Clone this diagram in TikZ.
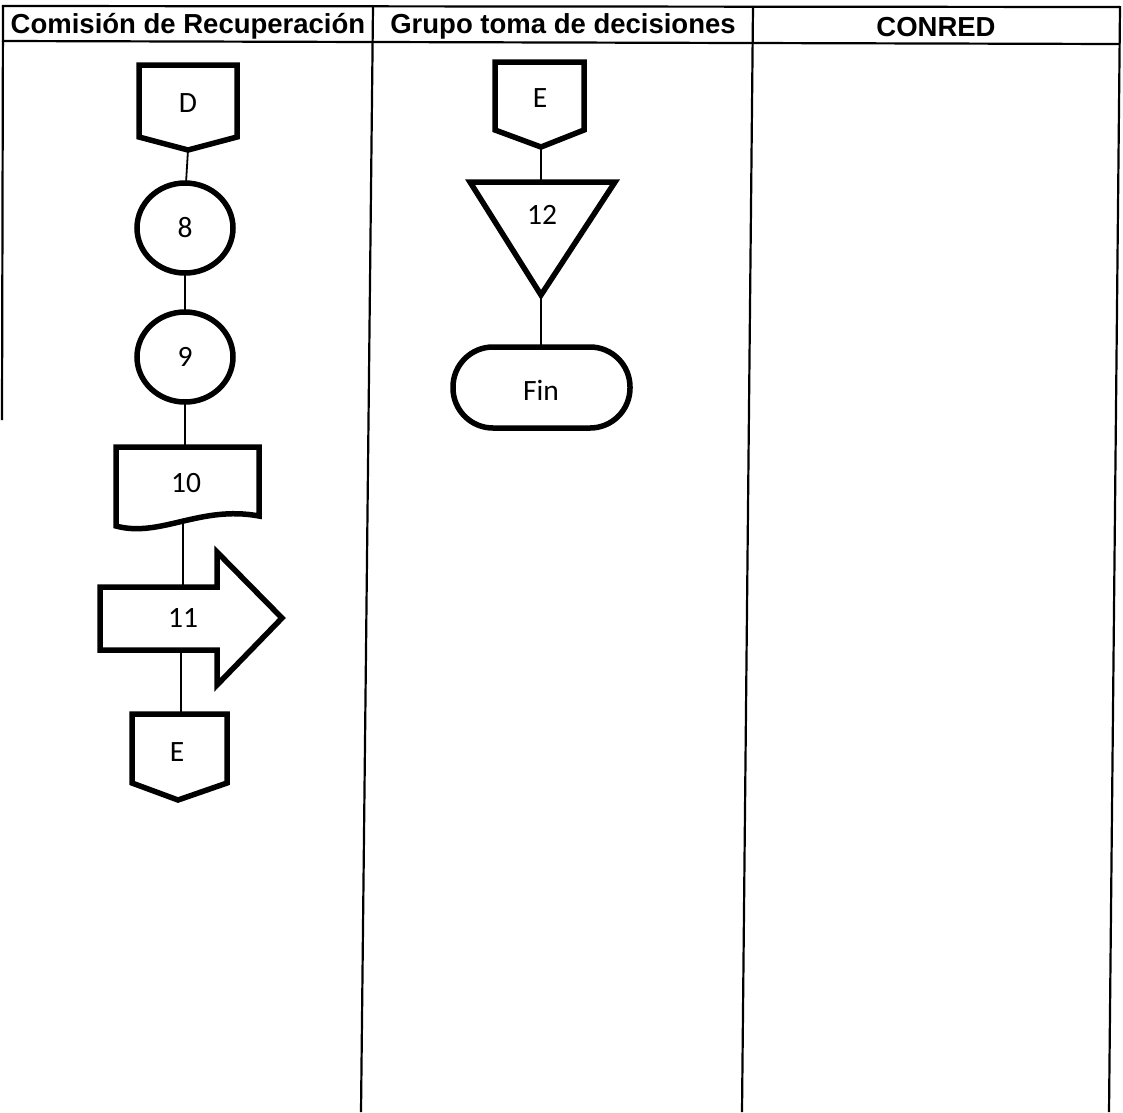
\documentclass[tikz,border=0pt]{standalone}
\usepackage{fontspec}
\setmainfont{Carlito}
\newfontfamily\hdrfont{Liberation Sans}
\begin{document}
\begin{tikzpicture}[x=1pt,y=-1pt,
  symb/.style={line width=5.5pt, line join=miter},
  conn/.style={line width=1.8pt},
  frame/.style={line width=2.2pt},
  lbl/.style={font=\fontsize{29.5}{29.5}\selectfont, inner sep=0pt},
  head/.style={font=\hdrfont\bfseries\fontsize{27.5}{27.5}\selectfont, inner sep=0pt}]
\useasboundingbox (0,0) rectangle (1123,1112);
% frame
\draw[frame] (2,6) -- (1120,7);
\draw[frame] (2,41) -- (1120,44);
\draw[frame] (3,5) -- (2,420);
\draw[frame] (373,6) -- (361,1112);
\draw[frame] (753,6) -- (742,1112);
\draw[frame] (1120,6) -- (1109,1112);
% headers
\node[head] (h1) at (188,26) {Comisión de Recuperación};
\node[head] (h2) at (563,26) {Grupo toma de decisiones};
\node[head] (h3) at (936,27) {CONRED};
% column 1
\draw[symb] (139,65) -- (237,65) -- (237,137) -- (188,150) -- (139,137) -- cycle;
\node[lbl] (D) at (188,103) {D};
\coordinate (Dbot) at (188,150);
\draw[symb] (185,228) ellipse [x radius=48pt, y radius=45pt];
\node[lbl] (n8) at (185,228) {8};
\coordinate (n8top) at (186,183);
\coordinate (n8bot) at (185,273);
\draw[symb] (185,357) ellipse [x radius=48pt, y radius=45pt];
\node[lbl] (n9) at (185,357) {9};
\coordinate (n9top) at (185,312);
\coordinate (n9bot) at (185,402);
\draw[symb] (116,526) -- (116,447) -- (259,447) -- (259,516) .. controls (200,505) and (160,538) .. (116,526) -- cycle;
\node[lbl] (n10) at (186,483) {10};
\coordinate (n10top) at (185,447);
\coordinate (n10bot) at (183,522);
\draw[symb] (100,587) -- (217,587) -- (217,552) -- (282,618) -- (217,685) -- (217,650) -- (100,650) -- cycle;
\node[lbl] (n11) at (183,618) {11};
\coordinate (n11top) at (183,587);
\coordinate (n11bot) at (181,650);
\draw[symb] (132,714) -- (227,714) -- (227,783) -- (178,800) -- (132,783) -- cycle;
\node[lbl] (E1) at (177,752) {E};
\coordinate (E1top) at (181,714);
\draw[conn] (Dbot) -- (n8top);
\draw[conn] (n8bot) -- (n9top);
\draw[conn] (n9bot) -- (n10top);
\draw[conn] (n10bot) -- (n11top);
\draw[conn] (n11bot) -- (E1top);
% column 2
\draw[symb] (495,62) -- (584,62) -- (584,130) -- (541,147) -- (495,130) -- cycle;
\node[lbl] (E2) at (540,98) {E};
\coordinate (E2bot) at (541,147);
\draw[symb] (470,182) -- (615,182) -- (541,295) -- cycle;
\node[lbl] (n12) at (542,215) {12};
\coordinate (n12top) at (541,182);
\coordinate (n12bot) at (541,295);
\draw[symb, rounded corners=40pt] (453,347) rectangle (630,428);
\node[lbl] (fin) at (541,390) {Fin};
\coordinate (fintop) at (541,347);
\draw[conn] (E2bot) -- (n12top);
\draw[conn] (n12bot) -- (fintop);
\end{tikzpicture}
\end{document}
